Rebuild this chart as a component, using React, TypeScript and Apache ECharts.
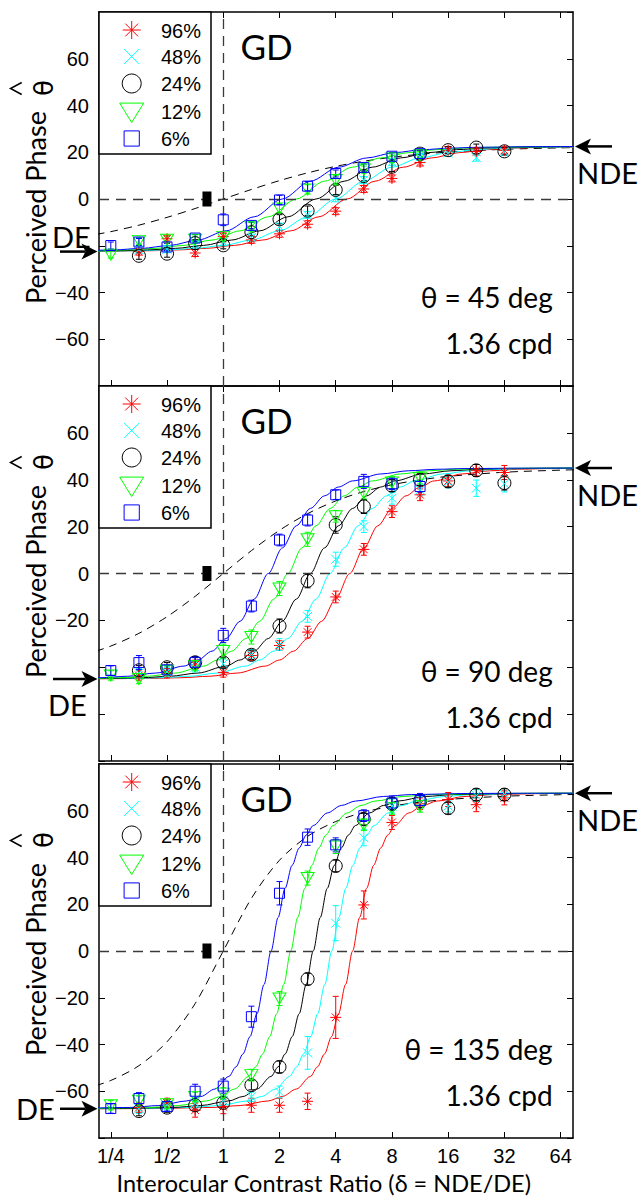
import React, { useEffect, useRef } from 'react';
import * as echarts from 'echarts';

// ---------- axes ----------
const X_MIN = -2.21; // log2 of contrast ratio
const X_MAX = 6.22;
const xTickValues = [-2, -1, 0, 1, 2, 3, 4, 5, 6];
const xTickLabels = ['1/4', '1/2', '1', '2', '4', '8', '16', '32', '64'];
const Y_MIN = -80;
const Y_MAX = 80;
const Y_STEP = 20;
// y tick labels covered by the DE annotation in each panel
const hiddenYLabels = [[-20], [-40, -60], []];

const seriesNames = ['96%', '48%', '24%', '12%', '6%'];
const seriesColors = ['#ff0000', '#00ffff', '#000000', '#00ff00', '#0000ff'];
const thetaLabels = ['θ = 45 deg', 'θ = 90 deg', 'θ = 135 deg'];
const sfLabel = '1.36 cpd';
const observer = 'GD';
const asymptotes = [22.5, 45, 67.5];

// ---------- data: [log2 ratio, perceived phase, error] ----------
const top96 = [[-1.5,-22.5,1.5],[-1,-17.0,1.5],[-0.5,-23.1,1.5],[0,-16.0,1.5],[0.5,-17.5,1.5],[1,-14.9,1.5],[1.5,-10.8,1.5],[2,-5.2,1.5],[2.5,4.3,1.5],[3,8.8,1.5],[3.5,15.6,1.5],[4,20.9,1.5],[4.5,20.3,1.5],[5,20.8,1.5]];
const top48 = [[-1.5,-21.7,1.5],[-1,-21.5,1.5],[-0.5,-19.5,1.5],[0,-18.5,1.5],[0.5,-16.5,1.5],[1,-11.8,1.5],[1.5,-6.8,1.5],[2,0.3,1.5],[2.5,8.1,1.5],[3,15.9,1.5],[3.5,18.0,1.5],[4,19.7,1.5],[4.5,17.7,1.5],[5,20.1,1.5]];
const top24 = [[-1.5,-24.3,1.5],[-1,-23.4,1.5],[-0.5,-18.9,1.5],[0,-19.8,1.5],[0.5,-14.2,1.5],[1,-8.7,2],[1.5,-5.0,2],[2,3.9,2],[2.5,9.8,2],[3,13.8,2],[3.5,19.4,1.5],[4,20.9,1.5],[4.5,22.0,1.5],[5,20.4,1.5]];
const top12 = [[-2,-23.8,1.5],[-1.5,-17.9,1.5],[-1,-17.4,1.5],[-0.5,-17.4,1.5],[0,-16.2,1.5],[0.5,-12.1,2],[1,-4.0,2],[1.5,4.1,2],[2,8.1,2],[2.5,12.6,1.5],[3,17.3,1.5],[3.5,18.7,1.5]];
const top6 = [[-2,-19.9,1.5],[-1.5,-18.4,1.5],[-1,-20.5,1.5],[-0.5,-16.7,1.5],[0,-8.9,2.5],[0.5,-11.3,1.5],[1,-0.4,2],[1.5,5.5,2],[2,10.9,1.5],[2.5,13.5,1.5],[3,18.3,1.5],[3.5,19.4,1.5]];

const mid96 = [[-1.5,-43.5,2],[-1,-42.5,2],[-0.5,-39.0,2],[0,-42.2,2],[0.5,-35.0,2],[1,-30.7,2],[1.5,-25.0,2.5],[2,-10.0,2.5],[2.5,10.3,2.5],[3,26.4,2.5],[3.5,33.6,2.5],[4,39.5,2.5],[4.5,44.0,2.5],[5,43.1,3]];
const mid48 = [[-1.5,-42.5,2],[-1,-42.0,2],[-0.5,-40.0,2],[0,-38.5,2],[0.5,-34.5,2],[1,-30.3,2.5],[1.5,-18.3,2.5],[2,6.1,3],[2.5,20.0,2.5],[3,32.1,2.5],[3.5,35.7,2.5],[4,39.0,2.5],[4.5,36.4,3.5],[5,38.3,3.5]];
const mid24 = [[-1.5,-41.3,2],[-1,-40.0,2],[-0.5,-37.9,2],[0,-37.9,2],[0.5,-34.7,2],[1,-22.4,3],[1.5,-3.1,3],[2,20.7,3.5],[2.5,28.6,3],[3,37.5,2.5],[3.5,40.0,2.5],[4,39.3,2.5],[4.5,44.0,2.5],[5,38.6,3]];
const mid12 = [[-2,-43.5,2],[-1.5,-45.0,2],[-1,-41.5,2],[-0.5,-39.5,2],[0,-33.1,3],[0.5,-27.1,3],[1,-6.4,3],[1.5,14.6,3],[2,24.4,2.5],[2.5,34.3,2.5],[3,38.8,2.5],[3.5,40.7,2.5]];
const mid6 = [[-2,-41.4,2],[-1.5,-38.0,3],[-1,-41.1,2],[-0.5,-37.9,2.5],[0,-26.4,3],[0.5,-13.9,2.5],[1,14.3,2.5],[1.5,22.8,2.5],[2,33.6,2],[2.5,39.3,3],[3,38.3,2.5],[3.5,37.1,2.5]];

const bot96 = [[-1.5,-67.0,2],[-1,-65.0,2],[-0.5,-68.1,3],[0,-66.6,3],[0.5,-66.0,3],[1,-66.0,3],[1.5,-64.3,3.5],[2,-28.4,9],[2.5,19.7,6],[3,55.0,3],[3.5,63.0,2.5],[4,64.8,3],[4.5,62.6,3],[5,65.5,3]];
const bot48 = [[-1.5,-67.5,2],[-1,-66.0,2],[-0.5,-65.0,2],[0,-64.0,2],[0.5,-62.4,2],[1,-60.3,2.5],[1.5,-43.6,7],[2,11.9,7.5],[2.5,48.5,3.5],[3,62.0,3],[3.5,63.5,2.5],[4,62.0,2.5],[4.5,66.5,2.5],[5,67.0,2.5]];
const bot24 = [[-1.5,-68.5,2],[-1,-67.0,2],[-0.5,-66.0,2],[0,-65.0,2],[0.5,-57.4,2],[1,-49.6,2.5],[1.5,-12.0,2.5],[2,36.4,2.5],[2.5,56.4,2.5],[3,63.0,2.5],[3.5,64.0,2.5],[4,61.1,2.5],[4.5,66.9,2.5],[5,66.9,2.5]];
const bot12 = [[-2,-66.0,2],[-1.5,-64.0,2],[-1,-65.5,2],[-0.5,-62.4,2],[0,-61.0,2.5],[0.5,-53.1,2.5],[1,-20.3,3],[1.5,31.2,3],[2,44.7,3],[2.5,54.0,2.5],[3,61.0,2.5],[3.5,61.9,2.5]];
const bot6 = [[-2,-67.4,2],[-1.5,-63.1,2.5],[-1,-66.5,2],[-0.5,-60.0,3],[0,-57.8,3],[0.5,-28.1,4.5],[1,24.7,5],[1.5,48.7,3.5],[2,45.4,3],[2.5,57.9,2.5],[3,63.3,3],[3.5,64.4,3]];

const blackMark = [[-0.29, 0]];

// ---------- fitted curves [log2 ratio, phase] ----------
const fitTop96 = [[-2.3,-22.41],[-1.3,-22.13],[-0.8,-21.78],[-0.3,-21.11],[0.2,-19.85],[0.7,-17.55],[1.2,-13.62],[1.7,-7.62],[2.2,0],[2.7,7.62],[3.2,13.62],[3.7,17.55],[4.2,19.85],[4.7,21.11],[5.2,21.78],[5.7,22.13],[6.7,22.41]];
const fitTop48 = [[-2.5,-22.41],[-1.5,-22.13],[-1,-21.78],[-0.5,-21.11],[0,-19.85],[0.5,-17.55],[1,-13.62],[1.5,-7.62],[2,0],[2.5,7.62],[3,13.62],[3.5,17.55],[4,19.85],[4.5,21.11],[5,21.78],[5.5,22.13],[6.5,22.41]];
const fitTop24 = [[-2.85,-22.41],[-1.85,-22.13],[-1.35,-21.78],[-0.85,-21.11],[-0.35,-19.85],[0.15,-17.55],[0.65,-13.62],[1.15,-7.62],[1.65,0],[2.15,7.62],[2.65,13.62],[3.15,17.55],[3.65,19.85],[4.15,21.11],[4.65,21.78],[5.15,22.13],[6.15,22.41],[7.15,22.48]];
const fitTop12 = [[-3.2,-22.41],[-2.2,-22.13],[-1.7,-21.78],[-1.2,-21.11],[-0.7,-19.85],[-0.2,-17.55],[0.3,-13.62],[0.8,-7.62],[1.3,0],[1.8,7.62],[2.3,13.62],[2.8,17.55],[3.3,19.85],[3.8,21.11],[4.3,21.78],[4.8,22.13],[5.8,22.41],[6.8,22.48]];
const fitTop6 = [[-2.45,-22.13],[-1.95,-21.78],[-1.45,-21.11],[-0.95,-19.85],[-0.45,-17.55],[0.05,-13.62],[0.55,-7.62],[1.05,0],[1.55,7.62],[2.05,13.62],[2.55,17.55],[3.05,19.85],[3.55,21.11],[4.05,21.78],[4.55,22.13],[5.55,22.41],[6.55,22.48]];

const fitMid96 = [[-2.25,-44.95],[-1.25,-44.76],[-0.75,-44.47],[-0.25,-43.84],[0.25,-42.47],[0.75,-39.5],[1.0,-36.9],[1.25,-33.13],[1.5,-27.76],[1.75,-20.37],[2.0,-10.9],[2.25,0],[2.5,10.9],[2.75,20.37],[3.0,27.76],[3.25,33.13],[3.5,36.9],[3.75,39.5],[4.25,42.47],[4.75,43.84],[5.25,44.47],[5.75,44.76],[6.75,44.95]];
const fitMid48 = [[-2.6,-44.95],[-1.6,-44.76],[-1.1,-44.47],[-0.6,-43.84],[-0.1,-42.47],[0.4,-39.5],[0.65,-36.9],[0.9,-33.13],[1.15,-27.76],[1.4,-20.37],[1.65,-10.9],[1.9,0],[2.15,10.9],[2.4,20.37],[2.65,27.76],[2.9,33.13],[3.15,36.9],[3.4,39.5],[3.9,42.47],[4.4,43.84],[4.9,44.47],[5.4,44.76],[6.4,44.95]];
const fitMid24 = [[-2.95,-44.95],[-1.95,-44.76],[-1.45,-44.47],[-0.95,-43.84],[-0.45,-42.47],[0.05,-39.5],[0.3,-36.9],[0.55,-33.13],[0.8,-27.76],[1.05,-20.37],[1.3,-10.9],[1.55,0],[1.8,10.9],[2.05,20.37],[2.3,27.76],[2.55,33.13],[2.8,36.9],[3.05,39.5],[3.55,42.47],[4.05,43.84],[4.55,44.47],[5.05,44.76],[6.05,44.95],[7.05,44.99]];
const fitMid12 = [[-3.35,-44.95],[-2.35,-44.76],[-1.85,-44.47],[-1.35,-43.84],[-0.85,-42.47],[-0.35,-39.5],[-0.1,-36.9],[0.15,-33.13],[0.4,-27.76],[0.65,-20.37],[0.9,-10.9],[1.15,0],[1.4,10.9],[1.65,20.37],[1.9,27.76],[2.15,33.13],[2.4,36.9],[2.65,39.5],[3.15,42.47],[3.65,43.84],[4.15,44.47],[4.65,44.76],[5.65,44.95],[6.65,44.99]];
const fitMid6 = [[-2.7,-44.76],[-2.2,-44.47],[-1.7,-43.84],[-1.2,-42.47],[-0.7,-39.5],[-0.45,-36.9],[-0.2,-33.13],[0.05,-27.76],[0.3,-20.37],[0.55,-10.9],[0.8,0],[1.05,10.9],[1.3,20.37],[1.55,27.76],[1.8,33.13],[2.05,36.9],[2.3,39.5],[2.8,42.47],[3.3,43.84],[3.8,44.47],[4.3,44.76],[5.3,44.95],[6.3,44.99]];

const fitBot96 = [[-3.2,-67.5],[-2.2,-67.48],[-1.2,-67.39],[-0.2,-66.93],[0.3,-66.12],[0.8,-64.14],[1.05,-62.25],[1.3,-59.06],[1.55,-53.67],[1.675,-49.58],[1.8,-44.08],[1.925,-36.67],[2.05,-26.81],[2.175,-14.34],[2.3,0],[2.425,14.34],[2.55,26.81],[2.675,36.67],[2.8,44.08],[2.925,49.58],[3.05,53.67],[3.3,59.06],[3.55,62.25],[3.8,64.14],[4.3,66.12],[4.8,66.93],[5.8,67.39],[6.8,67.48]];
const fitBot48 = [[-2.57,-67.48],[-1.57,-67.39],[-0.57,-66.93],[-0.07,-66.12],[0.43,-64.14],[0.68,-62.25],[0.93,-59.06],[1.18,-53.67],[1.305,-49.58],[1.43,-44.08],[1.555,-36.67],[1.68,-26.81],[1.805,-14.34],[1.93,0],[2.055,14.34],[2.18,26.81],[2.305,36.67],[2.43,44.08],[2.555,49.58],[2.68,53.67],[2.93,59.06],[3.18,62.25],[3.43,64.14],[3.93,66.12],[4.43,66.93],[5.43,67.39],[6.43,67.48]];
const fitBot24 = [[-2.9,-67.48],[-1.9,-67.39],[-0.9,-66.93],[-0.4,-66.12],[0.1,-64.14],[0.35,-62.25],[0.6,-59.06],[0.85,-53.67],[0.975,-49.58],[1.1,-44.08],[1.225,-36.67],[1.35,-26.81],[1.475,-14.34],[1.6,0],[1.725,14.34],[1.85,26.81],[1.975,36.67],[2.1,44.08],[2.225,49.58],[2.35,53.67],[2.6,59.06],[2.85,62.25],[3.1,64.14],[3.6,66.12],[4.1,66.93],[5.1,67.39],[6.1,67.48],[7.1,67.5]];
const fitBot12 = [[-2.3,-67.39],[-1.3,-66.93],[-0.8,-66.12],[-0.3,-64.14],[-0.05,-62.25],[0.2,-59.06],[0.45,-53.67],[0.575,-49.58],[0.7,-44.08],[0.825,-36.67],[0.95,-26.81],[1.075,-14.34],[1.2,0],[1.325,14.34],[1.45,26.81],[1.575,36.67],[1.7,44.08],[1.825,49.58],[1.95,53.67],[2.2,59.06],[2.45,62.25],[2.7,64.14],[3.2,66.12],[3.7,66.93],[4.7,67.39],[5.7,67.48],[6.7,67.5]];
const fitBot6 = [[-2.65,-67.39],[-1.65,-66.93],[-1.15,-66.12],[-0.65,-64.14],[-0.4,-62.25],[-0.15,-59.06],[0.1,-53.67],[0.225,-49.58],[0.35,-44.08],[0.475,-36.67],[0.6,-26.81],[0.725,-14.34],[0.85,0],[0.975,14.34],[1.1,26.81],[1.225,36.67],[1.35,44.08],[1.475,49.58],[1.6,53.67],[1.85,59.06],[2.1,62.25],[2.35,64.14],[2.85,66.12],[3.35,66.93],[4.35,67.39],[5.35,67.48],[6.35,67.5]];

// dashed model curves
const dashTop = [[-2.5,-16.16],[-2,-13.96],[-1.5,-11.19],[-1,-7.86],[-0.5,-4.07],[0,0],[0.5,4.07],[1,7.86],[1.5,11.19],[2,13.96],[2.5,16.16],[3,17.86],[3.5,19.13],[4,20.07],[5,21.26],[6,21.88],[6.5,22.06]];
const dashMid = [[-2.5,-34.98],[-2,-30.96],[-1.5,-25.53],[-1,-18.43],[-0.5,-9.74],[0,0],[0.5,9.74],[1,18.43],[1.5,25.53],[2,30.96],[2.5,34.98],[3,37.87],[3.5,39.95],[4,41.43],[5,43.21],[6,44.1],[6.5,44.37]];
const dashBot = [[-2.5,-59.37],[-2,-55.38],[-1.5,-49.06],[-1,-38.83],[-0.5,-22.5],[0,0],[0.5,22.5],[1,38.83],[1.5,49.06],[2,55.38],[2.5,59.37],[3,61.96],[3.5,63.69],[4,64.85],[5,66.21],[6,66.86],[6.5,67.05]];

const panels = [
  { data: [top96, top48, top24, top12, top6], fits: [fitTop96, fitTop48, fitTop24, fitTop12, fitTop6], dash: dashTop },
  { data: [mid96, mid48, mid24, mid12, mid6], fits: [fitMid96, fitMid48, fitMid24, fitMid12, fitMid6], dash: dashMid },
  { data: [bot96, bot48, bot24, bot12, bot6], fits: [fitBot96, fitBot48, fitBot24, fitBot12, fitBot6], dash: dashBot },
];

// ---------- layout ----------
const W = 639;
const H = 1196;
const GRID_LEFT = 99;
const GRID_WIDTH = 474;
const GRID_TOPS = [12, 386, 764];
const GRID_HEIGHTS = [374, 375, 374];
const SANS = 'Liberation Sans, Arial, Helvetica, sans-serif';
const HUM = 'Lato, Open Sans, DejaVu Sans, sans-serif';

const ASTERISK = 'path://M5,0L5,10M0,5L10,5M1.46,1.46L8.54,8.54M8.54,1.46L1.46,8.54';
const XMARK = 'path://M0,0L10,10M10,0L0,10';
const symbolDefs: any[] = [
  { symbol: ASTERISK, size: 11, rotate: 0 },
  { symbol: XMARK, size: 9, rotate: 0 },
  { symbol: 'circle', size: 13, rotate: 0 },
  { symbol: 'triangle', size: [13, 11], rotate: 180 },
  { symbol: 'rect', size: 10, rotate: 0 },
];

const errorBarItem = (color: string) => (params: any, api: any) => {
  const x = api.value(0);
  const y = api.value(1);
  const e = api.value(2);
  const p1 = api.coord([x, y + e]);
  const p2 = api.coord([x, y - e]);
  const hw = 3;
  const st = { stroke: color, lineWidth: 1 };
  return {
    type: 'group',
    children: [
      { type: 'line', shape: { x1: p1[0], y1: p1[1], x2: p2[0], y2: p2[1] }, style: st },
      { type: 'line', shape: { x1: p1[0] - hw, y1: p1[1], x2: p1[0] + hw, y2: p1[1] }, style: st },
      { type: 'line', shape: { x1: p2[0] - hw, y1: p2[1], x2: p2[0] + hw, y2: p2[1] }, style: st },
    ],
  };
};

function yPix(pi: number, v: number) {
  return GRID_TOPS[pi] + (GRID_HEIGHTS[pi] * (Y_MAX - v)) / (Y_MAX - Y_MIN);
}

function legendElements(top: number) {
  const cx = 131.7;
  const rows = [18, 44.5, 71.5, 99.5, 126.5].map((r) => top + r);
  const Z = 100;
  const ln = (x1: number, y1: number, x2: number, y2: number, c: string) => ({
    type: 'line', z: Z + 1, silent: true, shape: { x1, y1, x2, y2 }, style: { stroke: c, lineWidth: 1 },
  });
  const els: any[] = [
    { type: 'rect', z: Z, silent: true, shape: { x: GRID_LEFT, y: top, width: 112, height: 142 }, style: { fill: '#fff', stroke: '#000', lineWidth: 1.5 } },
  ];
  let cy = rows[0];
  els.push(ln(cx - 9, cy, cx + 9, cy, seriesColors[0]), ln(cx, cy - 9, cx, cy + 9, seriesColors[0]),
    ln(cx - 6.4, cy - 6.4, cx + 6.4, cy + 6.4, seriesColors[0]), ln(cx - 6.4, cy + 6.4, cx + 6.4, cy - 6.4, seriesColors[0]));
  cy = rows[1];
  els.push(ln(cx - 7.5, cy - 7.5, cx + 7.5, cy + 7.5, seriesColors[1]), ln(cx - 7.5, cy + 7.5, cx + 7.5, cy - 7.5, seriesColors[1]));
  cy = rows[2];
  els.push({ type: 'circle', z: Z + 1, silent: true, shape: { cx, cy, r: 9.5 }, style: { fill: 'none', stroke: seriesColors[2], lineWidth: 1 } });
  cy = rows[3];
  els.push({ type: 'polygon', z: Z + 1, silent: true, shape: { points: [[cx - 12, cy - 8.4], [cx + 12, cy - 8.4], [cx, cy + 11]] }, style: { fill: 'none', stroke: seriesColors[3], lineWidth: 1 } });
  cy = rows[4];
  els.push({ type: 'rect', z: Z + 1, silent: true, shape: { x: cx - 7.6, y: cy - 7.6, width: 15.2, height: 15.2 }, style: { fill: 'none', stroke: seriesColors[4], lineWidth: 1 } });
  seriesNames.forEach((n, i) => {
    els.push({ type: 'text', z: Z + 1, silent: true, x: 161, y: rows[i] + 0.5, style: { text: n, fontSize: 20, fontFamily: SANS, fill: '#000', textVerticalAlign: 'middle' } });
  });
  return els;
}

function arrow(tipX: number, tailX: number, y: number) {
  const dir = tailX < tipX ? 1 : -1;
  const back = tipX - dir * 16;
  const notch = tipX - dir * 12;
  return [
    { type: 'line', z: 50, silent: true, shape: { x1: tailX, y1: y, x2: notch, y2: y }, style: { stroke: '#000', lineWidth: 2.5 } },
    { type: 'polygon', z: 50, silent: true, shape: { points: [[tipX, y], [back, y - 8], [notch, y], [back, y + 8]] }, style: { fill: '#000' } },
  ];
}

function panelGraphics(pi: number) {
  const top = GRID_TOPS[pi];
  const els: any[] = [];
  els.push(...legendElements(top));
  els.push({ type: 'text', z: 60, silent: true, x: 240.5, y: top + 33.5, style: { text: observer, fontSize: 35, fontFamily: HUM, fill: '#000', textVerticalAlign: 'middle' } });
  els.push({ type: 'text', z: 60, silent: true, x: 552.7, y: top + 284.6, style: { text: thetaLabels[pi], fontSize: 28, fontFamily: HUM, fill: '#000', textAlign: 'right', textVerticalAlign: 'middle' } });
  els.push({ type: 'text', z: 60, silent: true, x: 552.7, y: top + 330.6, style: { text: sfLabel, fontSize: 28, fontFamily: HUM, fill: '#000', textAlign: 'right', textVerticalAlign: 'middle' } });
  els.push({ type: 'text', z: 60, silent: true, x: 35.5, y: top + 195.5, rotation: Math.PI / 2, style: { text: 'Perceived Phase', fontSize: 27, fontFamily: HUM, fill: '#000', textAlign: 'center', textVerticalAlign: 'middle' } });
  els.push({ type: 'text', z: 60, silent: true, x: 44, y: top + 76, rotation: Math.PI / 2, style: { text: 'θ', fontSize: 26, fontFamily: 'DejaVu Sans, sans-serif', fill: '#000', textAlign: 'center', textVerticalAlign: 'middle' } });
  els.push({ type: 'polyline', z: 60, silent: true, shape: { points: [[21.7, top + 70.5], [10.5, top + 76.5], [21.7, top + 82.5]] }, style: { stroke: '#000', lineWidth: 1.5, fill: 'none' } });
  const yDE = yPix(pi, -asymptotes[pi]);
  const yNDE = yPix(pi, asymptotes[pi]);
  els.push(...arrow(97.5, pi === 1 ? 53 : 60, yDE));
  els.push(...arrow(575, 612, yNDE));
  const deX = [52, 48, 16][pi];
  const deDy = [-15, 26, 0][pi];
  els.push({ type: 'text', z: 60, silent: true, x: deX, y: yDE + deDy, style: { text: 'DE', fontSize: 29, fontFamily: HUM, fill: '#000', textVerticalAlign: 'middle' } });
  els.push({ type: 'text', z: 60, silent: true, x: 577, y: yNDE + 26, style: { text: 'NDE', fontSize: 29, fontFamily: HUM, fill: '#000', textVerticalAlign: 'middle' } });
  return els;
}

function buildOption() {
  const grid: any[] = [];
  const xAxis: any[] = [];
  const yAxis: any[] = [];
  const series: any[] = [];
  const axisLine = { show: true, onZero: false, lineStyle: { color: '#000', width: 1.5 } };

  panels.forEach((p, pi) => {
    grid.push({ left: GRID_LEFT, top: GRID_TOPS[pi], width: GRID_WIDTH, height: GRID_HEIGHTS[pi] });
    const isBottom = pi === panels.length - 1;
    ['bottom', 'top'].forEach((pos, k) => {
      xAxis.push({
        type: 'value', gridIndex: pi, position: pos, min: X_MIN, max: X_MAX,
        axisLine,
        axisTick: { show: true, inside: true, length: 6, customValues: xTickValues, lineStyle: { color: '#000', width: 1 } },
        axisLabel: {
          show: isBottom && k === 0, customValues: xTickValues, margin: 8, fontSize: 20, fontFamily: SANS, color: '#000',
          formatter: (v: number) => { const i = xTickValues.indexOf(Math.round(v)); return i >= 0 ? xTickLabels[i] : ''; },
        },
        splitLine: { show: false },
      });
    });
    const hidden = hiddenYLabels[pi];
    ['left', 'right'].forEach((pos, k) => {
      yAxis.push({
        type: 'value', gridIndex: pi, position: pos, min: Y_MIN, max: Y_MAX, interval: Y_STEP,
        axisLine,
        axisTick: { show: true, inside: true, length: 6, lineStyle: { color: '#000', width: 1 } },
        axisLabel: {
          show: k === 0, margin: 10, fontSize: 20, fontFamily: SANS, color: '#000',
          formatter: (v: number) =>
            v === Y_MIN || v === Y_MAX || hidden.indexOf(v) >= 0 ? '' : v < 0 ? '\u2212' + Math.abs(v) : String(v),
        },
        splitLine: { show: false },
      });
    });

    const xi = pi * 2;
    const yi = pi * 2;
    series.push({
      type: 'line', xAxisIndex: xi, yAxisIndex: yi, data: p.dash, showSymbol: false, smooth: 0.3, silent: true, z: 2,
      lineStyle: { color: '#000', width: 1, type: [8, 6] },
      markLine: {
        silent: true, symbol: 'none', label: { show: false },
        lineStyle: { color: '#3a3a3a', width: 1.3, type: [10, 7] },
        data: [{ yAxis: 0 }, { xAxis: 0 }],
      },
    });
    p.fits.forEach((f, si) => {
      series.push({
        type: 'line', xAxisIndex: xi, yAxisIndex: yi, data: f, showSymbol: false, smooth: 0.3, smoothMonotone: 'x', silent: true, z: 3,
        lineStyle: { color: seriesColors[si], width: 1 },
      });
    });
    p.data.forEach((d, si) => {
      series.push({
        type: 'custom', xAxisIndex: xi, yAxisIndex: yi, data: d, renderItem: errorBarItem(seriesColors[si]),
        encode: { x: 0, y: 1 }, silent: true, z: 4,
      });
      const sd = symbolDefs[si];
      series.push({
        type: 'scatter', name: seriesNames[si], xAxisIndex: xi, yAxisIndex: yi, data: d, silent: true, z: 5,
        symbol: sd.symbol, symbolSize: sd.size, symbolRotate: sd.rotate,
        itemStyle: { color: 'rgba(0,0,0,0)', borderColor: seriesColors[si], borderWidth: 1, opacity: 1 },
      });
    });
    series.push({
      type: 'scatter', xAxisIndex: xi, yAxisIndex: yi, data: blackMark, silent: true, z: 5,
      symbol: 'rect', symbolSize: [9, 15], itemStyle: { color: '#000', opacity: 1 },
    });
  });

  const graphic: any[] = [];
  panels.forEach((_, pi) => graphic.push(...panelGraphics(pi)));
  graphic.push({
    type: 'text', z: 60, silent: true, x: 116.5, y: 1182.5,
    style: { text: 'Interocular Contrast Ratio (δ = NDE/DE)', fontSize: 23.5, fontFamily: HUM, fill: '#000', textVerticalAlign: 'middle' },
  });

  return { animation: false, backgroundColor: '#fff', grid, xAxis, yAxis, series, graphic };
}

export default function App() {
  const ref = useRef<HTMLDivElement>(null);
  useEffect(() => {
    if (!ref.current) return;
    const chart = echarts.init(ref.current, null, { renderer: 'svg', width: W, height: H });
    chart.setOption(buildOption() as any);
    return () => chart.dispose();
  }, []);
  return <div ref={ref} style={{ position: 'absolute', left: 0, top: 0, width: W, height: H, background: '#fff' }} />;
}
